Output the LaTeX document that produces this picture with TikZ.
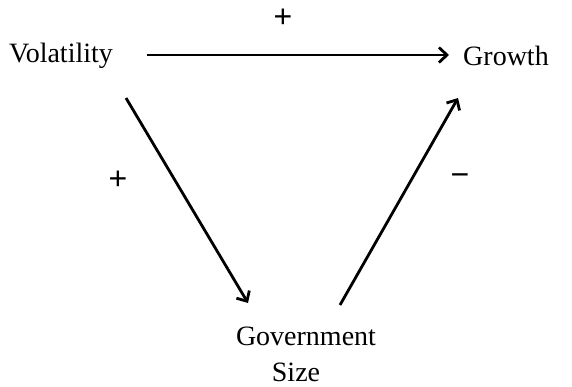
\documentclass[tikz,border=0pt]{standalone}
\usepackage{fontspec}
\setmainfont{Liberation Serif}
\newfontfamily\signfont{Liberation Sans}
\usetikzlibrary{arrows.meta}
\begin{document}
\begin{tikzpicture}[x=1pt,y=-1pt,
  lbl/.style={font=\fontsize{28}{32}\selectfont, inner sep=0pt},
  sign/.style={font=\signfont\fontsize{32}{36}\selectfont, inner sep=0pt},
  arr/.style={line width=2.8pt, -{Straight Barb[length=8pt,width=15pt,line width=2.8pt]}}]
\useasboundingbox (0,0) rectangle (572,387);
\node[lbl] (vol) at (61,56) {Volatility};
\node[lbl] (gro) at (506,56) {Growth};
\node[lbl] (gov) at (306,336) {Government};
\node[lbl] (size) at (296,372) {Size};
\node[sign] (p1) at (283,18) {+};
\node[sign] (p2) at (118,180) {+};
\node[sign] (m1) at (460,180) {\char"2212};
\draw[arr] ([shift={(86,-1)}]vol.center) -- ([shift={(-57,-1)}]gro.center);
\draw[arr] ([shift={(65,42)}]vol.center) -- ([shift={(-58,-33)}]gov.center);
\draw[arr] ([shift={(34,-31)}]gov.center) -- ([shift={(-48,42)}]gro.center);
\end{tikzpicture}
\end{document}
